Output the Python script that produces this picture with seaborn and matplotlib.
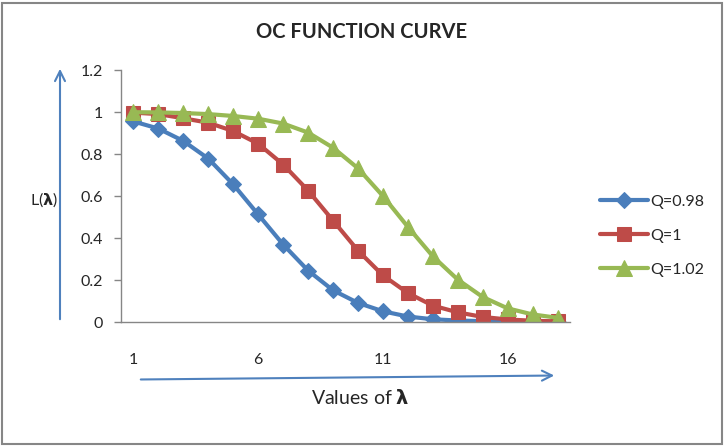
import numpy as np
import pandas as pd
import seaborn as sns
import matplotlib.pyplot as plt

# values of lambda (1..18) and L(lambda) for each Q
lam = list(range(1, 19))
q098 = [0.955, 0.921, 0.862, 0.778, 0.655, 0.512, 0.369, 0.245, 0.151, 0.091,
        0.051, 0.026, 0.013, 0.007, 0.004, 0.002, 0.001, 0.001]
q100 = [0.997, 0.990, 0.970, 0.949, 0.909, 0.849, 0.750, 0.626, 0.483, 0.340,
        0.222, 0.138, 0.078, 0.046, 0.024, 0.012, 0.006, 0.003]
q102 = [0.999, 0.998, 0.995, 0.990, 0.981, 0.968, 0.945, 0.902, 0.830, 0.732,
        0.600, 0.453, 0.313, 0.202, 0.119, 0.065, 0.036, 0.020]
series_names = ['Q=0.98', 'Q=1', 'Q=1.02']

df = pd.DataFrame({'lam': lam * 3,
                   'L': q098 + q100 + q102,
                   'Q': [s for s in series_names for _ in lam]})

colors = {'Q=0.98': '#4A7EBB', 'Q=1': '#BE4B48', 'Q=1.02': '#98B954'}
markers = {'Q=0.98': 'D', 'Q=1': 's', 'Q=1.02': '^'}
msizes = {'Q=0.98': 8, 'Q=1': 10, 'Q=1.02': 11}

sns.set_style('white')
plt.rcParams['font.family'] = ['Lato', 'DejaVu Sans']

fig = plt.figure(figsize=(7.26, 4.46), dpi=100)
ax = fig.add_axes([121 / 726, 1 - 322 / 446, 449 / 726, 252 / 446])

for name in series_names:
    sub = df[df['Q'] == name]
    sns.lineplot(data=sub, x='lam', y='L', ax=ax, color=colors[name],
                 marker=markers[name], markersize=msizes[name],
                 markeredgecolor=colors[name], linewidth=3, label=name)

ax.set_xlim(0.5, 18.5)
ax.set_ylim(0, 1.2)
ax.set_yticks([0, 0.2, 0.4, 0.6, 0.8, 1, 1.2])
ax.set_yticklabels(['0', '0.2', '0.4', '0.6', '0.8', '1', '1.2'])
ax.set_xticks([1, 6, 11, 16])
ax.set_xticklabels(['1', '6', '11', '16'])
ax.tick_params(axis='y', length=5, width=1, color='#868686', labelsize=11.5, pad=8,
               left=True)
ax.tick_params(axis='x', length=0, labelsize=11.5, pad=22)
for s in ['top', 'right']:
    ax.spines[s].set_visible(False)
for s in ['left', 'bottom']:
    ax.spines[s].set_color('#868686')
    ax.spines[s].set_linewidth(1)
ax.set_xlabel('')
ax.set_ylabel('')

leg = ax.legend(loc='upper left', bbox_to_anchor=(594 / 726, 1 - 188 / 446),
                bbox_transform=fig.transFigure, frameon=False, fontsize=11.5,
                handlelength=3, handletextpad=0.1, labelspacing=1.25,
                borderaxespad=0)

fig.text(362 / 726, 1 - 32 / 446, 'OC FUNCTION CURVE', ha='center', va='center',
         fontsize=14.5, fontweight='bold')
fig.text(44 / 726, 1 - 200 / 446, 'L($\\mathbf{\\lambda}$)', ha='center',
         va='center', fontsize=11.5)
fig.text(360 / 726, 1 - 398 / 446, 'Values of $\\mathbf{\\lambda}$', ha='center',
         va='center', fontsize=14)

arrow_color = '#4F81BD'
fig.patches.append(plt.Rectangle((0.003, 0.004), 0.992, 0.99,
                                 transform=fig.transFigure, fill=False,
                                 edgecolor='#868686', linewidth=1.5))
ax.annotate('', xy=(60 / 726, 1 - 66 / 446), xytext=(60 / 726, 1 - 322 / 446),
            xycoords='figure fraction', textcoords='figure fraction',
            arrowprops=dict(arrowstyle='->', color=arrow_color, lw=1.5,
                            mutation_scale=18))
ax.annotate('', xy=(557 / 726, 1 - 375.5 / 446), xytext=(138 / 726, 1 - 379.5 / 446),
            xycoords='figure fraction', textcoords='figure fraction',
            arrowprops=dict(arrowstyle='->', color=arrow_color, lw=1.5,
                            mutation_scale=18))

fig.savefig('out.png', dpi=100)
